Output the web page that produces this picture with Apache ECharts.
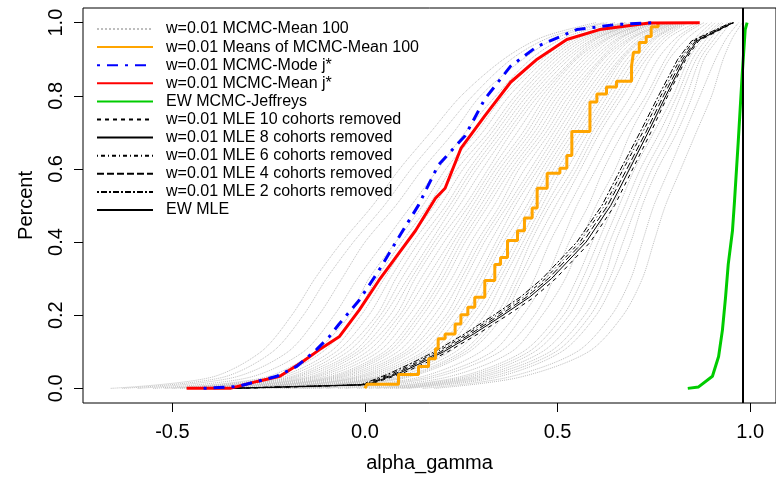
<!DOCTYPE html>
<html>
<head>
<meta charset="utf-8">
<script src="https://cdn.jsdelivr.net/npm/echarts@6/dist/echarts.min.js"></script>
<style>
  html, body { margin: 0; padding: 0; background: #fff; }
  #tu1 { width: 776px; height: 478px; }
</style>
</head>
<body>
<div id="tu1"></div>
<script>
// tick labels
var xTicks = [-0.5, 0, 0.5, 1.0];
var yTicks = [0, 0.2, 0.4, 0.6, 0.8, 1.0];

// gray: "MCMC-Mean 100" curves, x read at these percent levels
var grayP = [0, 0.03, 0.1, 0.2, 0.3, 0.4, 0.5, 0.6, 0.7, 0.8, 0.9, 0.96, 1];
var grayX = [
    [-0.66, -0.40, -0.27, -0.19, -0.13, -0.06, 0.02, 0.09, 0.17, 0.25, 0.36, 0.46, 0.60],
    [-0.63, -0.37, -0.24, -0.16, -0.10, -0.03, 0.05, 0.12, 0.20, 0.28, 0.38, 0.48, 0.62],
    [-0.59, -0.34, -0.20, -0.12, -0.06, 0.00, 0.08, 0.15, 0.23, 0.30, 0.41, 0.50, 0.63],
    [-0.55, -0.30, -0.16, -0.08, -0.02, 0.05, 0.12, 0.19, 0.26, 0.34, 0.43, 0.52, 0.65],
    [-0.52, -0.26, -0.13, -0.04, 0.01, 0.08, 0.15, 0.21, 0.29, 0.36, 0.46, 0.54, 0.67],
    [-0.50, -0.245, -0.11, -0.025, 0.03, 0.095, 0.165, 0.225, 0.305, 0.375, 0.47, 0.55, 0.675],
    [-0.48, -0.23, -0.09, -0.01, 0.05, 0.11, 0.18, 0.24, 0.32, 0.39, 0.48, 0.56, 0.68],
    [-0.465, -0.215, -0.075, 0.01, 0.065, 0.125, 0.195, 0.255, 0.33, 0.40, 0.49, 0.57, 0.69],
    [-0.45, -0.20, -0.06, 0.03, 0.08, 0.14, 0.21, 0.27, 0.34, 0.41, 0.50, 0.58, 0.70],
    [-0.435, -0.19, -0.045, 0.04, 0.095, 0.155, 0.22, 0.28, 0.35, 0.42, 0.51, 0.59, 0.705],
    [-0.42, -0.18, -0.03, 0.05, 0.11, 0.17, 0.23, 0.29, 0.36, 0.43, 0.52, 0.60, 0.71],
    [-0.41, -0.165, -0.02, 0.065, 0.12, 0.18, 0.245, 0.305, 0.37, 0.44, 0.53, 0.605, 0.715],
    [-0.40, -0.15, -0.01, 0.08, 0.13, 0.19, 0.26, 0.32, 0.38, 0.45, 0.54, 0.61, 0.72],
    [-0.385, -0.14, 0.005, 0.09, 0.145, 0.205, 0.27, 0.33, 0.395, 0.46, 0.545, 0.62, 0.725],
    [-0.37, -0.13, 0.02, 0.10, 0.16, 0.22, 0.28, 0.34, 0.41, 0.47, 0.55, 0.63, 0.73],
    [-0.36, -0.115, 0.035, 0.115, 0.175, 0.23, 0.29, 0.35, 0.42, 0.48, 0.56, 0.635, 0.735],
    [-0.35, -0.10, 0.05, 0.13, 0.19, 0.24, 0.30, 0.36, 0.43, 0.49, 0.57, 0.64, 0.74],
    [-0.335, -0.09, 0.06, 0.14, 0.20, 0.25, 0.31, 0.37, 0.44, 0.50, 0.58, 0.65, 0.745],
    [-0.32, -0.08, 0.07, 0.15, 0.21, 0.26, 0.32, 0.38, 0.45, 0.51, 0.59, 0.66, 0.75],
    [-0.31, -0.07, 0.085, 0.165, 0.225, 0.275, 0.335, 0.39, 0.46, 0.52, 0.60, 0.665, 0.755],
    [-0.30, -0.06, 0.10, 0.18, 0.24, 0.29, 0.35, 0.40, 0.47, 0.53, 0.61, 0.67, 0.76],
    [-0.285, -0.045, 0.11, 0.195, 0.25, 0.30, 0.36, 0.415, 0.48, 0.54, 0.615, 0.68, 0.77],
    [-0.27, -0.03, 0.12, 0.21, 0.26, 0.31, 0.37, 0.43, 0.49, 0.55, 0.62, 0.69, 0.78],
    [-0.26, -0.02, 0.135, 0.22, 0.275, 0.325, 0.38, 0.44, 0.50, 0.56, 0.63, 0.695, 0.785],
    [-0.25, -0.01, 0.15, 0.23, 0.29, 0.34, 0.39, 0.45, 0.51, 0.57, 0.64, 0.70, 0.79],
    [-0.235, 0.005, 0.16, 0.245, 0.30, 0.35, 0.405, 0.46, 0.52, 0.58, 0.65, 0.71, 0.795],
    [-0.22, 0.02, 0.17, 0.26, 0.31, 0.36, 0.42, 0.47, 0.53, 0.59, 0.66, 0.72, 0.80],
    [-0.21, 0.03, 0.185, 0.27, 0.325, 0.375, 0.43, 0.48, 0.54, 0.60, 0.665, 0.725, 0.805],
    [-0.20, 0.04, 0.20, 0.28, 0.34, 0.39, 0.44, 0.49, 0.55, 0.61, 0.67, 0.73, 0.81],
    [-0.185, 0.05, 0.21, 0.295, 0.35, 0.40, 0.45, 0.50, 0.56, 0.62, 0.68, 0.74, 0.815],
    [-0.17, 0.06, 0.22, 0.31, 0.36, 0.41, 0.46, 0.51, 0.57, 0.63, 0.69, 0.75, 0.82],
    [-0.16, 0.075, 0.235, 0.325, 0.375, 0.42, 0.47, 0.525, 0.58, 0.64, 0.70, 0.755, 0.825],
    [-0.15, 0.09, 0.25, 0.34, 0.39, 0.43, 0.48, 0.54, 0.59, 0.65, 0.71, 0.76, 0.83],
    [-0.135, 0.10, 0.26, 0.35, 0.40, 0.445, 0.495, 0.55, 0.60, 0.66, 0.72, 0.77, 0.835],
    [-0.12, 0.11, 0.27, 0.36, 0.41, 0.46, 0.51, 0.56, 0.61, 0.67, 0.73, 0.78, 0.84],
    [-0.10, 0.14, 0.30, 0.39, 0.44, 0.48, 0.53, 0.58, 0.63, 0.69, 0.74, 0.79, 0.86],
    [-0.07, 0.16, 0.33, 0.41, 0.47, 0.51, 0.55, 0.60, 0.65, 0.71, 0.76, 0.81, 0.87],
    [-0.05, 0.18, 0.35, 0.44, 0.49, 0.53, 0.58, 0.62, 0.67, 0.73, 0.78, 0.82, 0.88],
    [-0.02, 0.21, 0.38, 0.46, 0.52, 0.56, 0.60, 0.65, 0.69, 0.74, 0.79, 0.84, 0.89],
    [0.01, 0.24, 0.41, 0.50, 0.55, 0.59, 0.63, 0.67, 0.72, 0.77, 0.82, 0.86, 0.90],
    [0.03, 0.255, 0.425, 0.515, 0.565, 0.605, 0.645, 0.685, 0.735, 0.785, 0.83, 0.87, 0.91],
    [0.05, 0.27, 0.44, 0.53, 0.58, 0.62, 0.66, 0.70, 0.75, 0.80, 0.84, 0.88, 0.92],
    [0.065, 0.285, 0.46, 0.55, 0.60, 0.635, 0.675, 0.715, 0.765, 0.81, 0.85, 0.89, 0.925],
    [0.08, 0.30, 0.48, 0.57, 0.62, 0.65, 0.69, 0.73, 0.78, 0.82, 0.86, 0.90, 0.93],
    [0.095, 0.32, 0.495, 0.585, 0.635, 0.67, 0.705, 0.745, 0.795, 0.835, 0.87, 0.91, 0.94],
    [0.11, 0.34, 0.51, 0.60, 0.65, 0.69, 0.72, 0.76, 0.81, 0.85, 0.88, 0.92, 0.95],
    [0.15, 0.37, 0.55, 0.64, 0.69, 0.72, 0.75, 0.79, 0.83, 0.87, 0.91, 0.94, 0.97],
    [0.18, 0.40, 0.58, 0.67, 0.72, 0.75, 0.78, 0.82, 0.86, 0.90, 0.93, 0.955, 0.98]
];

// orange: means of MCMC-Mean 100 (step)
var orangeX = [0.000, 0.005, 0.044, 0.087, 0.139, 0.165, 0.183, 0.190, 0.208, 0.234, 0.249, 0.267, 0.285, 0.311, 0.337, 0.352, 0.370, 0.396, 0.414, 0.434, 0.447, 0.473, 0.506, 0.524, 0.537, 0.555, 0.584, 0.602, 0.627, 0.653, 0.679, 0.692, 0.697, 0.712, 0.730, 0.743, 0.761];
var orangeP = [0, 0.011, 0.011, 0.038, 0.060, 0.081, 0.108, 0.136, 0.149, 0.176, 0.201, 0.222, 0.249, 0.295, 0.339, 0.358, 0.404, 0.431, 0.466, 0.493, 0.547, 0.588, 0.602, 0.637, 0.702, 0.702, 0.783, 0.805, 0.824, 0.840, 0.840, 0.881, 0.919, 0.946, 0.962, 0.989, 1];

// blue: MCMC-Mode j*
var blueX = [-0.419, -0.332, -0.229, -0.177, -0.126, -0.093, -0.067, -0.015, 0.036, 0.087, 0.139, 0.190, 0.260, 0.311, 0.378, 0.447, 0.550, 0.653, 0.756];
var blueP = [0, 0.005, 0.033, 0.060, 0.106, 0.141, 0.176, 0.241, 0.322, 0.412, 0.501, 0.610, 0.691, 0.791, 0.881, 0.935, 0.981, 0.995, 1];

// red: MCMC-Mean j*
var redX = [-0.463, -0.350, -0.280, -0.221, -0.162, -0.118, -0.067, -0.015, 0.036, 0.080, 0.131, 0.183, 0.208, 0.249, 0.311, 0.378, 0.447, 0.524, 0.609, 0.738, 0.869];
var redP = [0, 0, 0.019, 0.033, 0.073, 0.106, 0.141, 0.214, 0.295, 0.358, 0.431, 0.520, 0.547, 0.656, 0.745, 0.837, 0.900, 0.954, 0.981, 0.999, 1];

// green: EW MCMC-Jeffreys
var greenX = [0.838, 0.866, 0.902, 0.918, 0.928, 0.936, 0.943, 0.954, 0.959, 0.969, 0.979, 0.987, 0.992];
var greenP = [0, 0.004, 0.033, 0.087, 0.160, 0.249, 0.339, 0.431, 0.507, 0.675, 0.854, 0.981, 1];

// black: MLE with cohorts removed
var mleP = [0, 0.005, 0.01, 0.04, 0.07, 0.1, 0.15, 0.2, 0.25, 0.3, 0.4, 0.5, 0.6, 0.7, 0.8, 0.9, 0.95, 1];
var mle10 = [-0.33, -0.15, 0.01, 0.095, 0.158, 0.215, 0.295, 0.37, 0.44, 0.495, 0.585, 0.648, 0.695, 0.742, 0.786, 0.833, 0.866, 0.958];
var mle8 = [-0.35, -0.16, 0.005, 0.086, 0.147, 0.204, 0.284, 0.358, 0.428, 0.484, 0.574, 0.638, 0.687, 0.735, 0.781, 0.829, 0.862, 0.956];
var mle6 = [-0.36, -0.18, -0.005, 0.07, 0.131, 0.188, 0.268, 0.342, 0.412, 0.468, 0.558, 0.622, 0.671, 0.721, 0.768, 0.818, 0.853, 0.952];
var mle4 = [-0.34, -0.17, 0.0, 0.078, 0.139, 0.196, 0.276, 0.35, 0.42, 0.476, 0.566, 0.630, 0.680, 0.729, 0.775, 0.824, 0.858, 0.955];
var mle2 = [-0.37, -0.19, -0.01, 0.062, 0.123, 0.18, 0.26, 0.334, 0.404, 0.46, 0.55, 0.615, 0.664, 0.714, 0.762, 0.812, 0.848, 0.95];

// EW MLE point estimate (vertical line)
var ewMle = 0.978;

var FONT = 'Liberation Sans';
var NAME_GRAY = 'w=0.01 MCMC-Mean 100';

function pairs(xs, ps) {
    var out = [];
    for (var i = 0; i < xs.length; i++) out.push([xs[i], ps[i]]);
    return out;
}

function lineSeries(name, data, color, width, type, extra) {
    var s = {
        name: name,
        type: 'line',
        data: data,
        symbol: 'none',
        silent: true,
        lineStyle: { color: color, width: width, type: type },
        itemStyle: { color: color }
    };
    for (var k in extra) s[k] = extra[k];
    return s;
}

var series = [];
grayX.forEach(function (row) {
    series.push(lineSeries(NAME_GRAY, pairs(row, grayP), '#bebebe', 1, 'dotted', { smooth: 0.3 }));
});
series.push(lineSeries('w=0.01 MLE 10 cohorts removed', pairs(mle10, mleP), '#000', 1, [4, 4]));
series.push(lineSeries('w=0.01 MLE 8 cohorts removed', pairs(mle8, mleP), '#000', 1, 'solid'));
series.push(lineSeries('w=0.01 MLE 6 cohorts removed', pairs(mle6, mleP), '#000', 1, [1, 3, 4, 3]));
series.push(lineSeries('w=0.01 MLE 4 cohorts removed', pairs(mle4, mleP), '#000', 1, [7, 3]));
series.push(lineSeries('w=0.01 MLE 2 cohorts removed', pairs(mle2, mleP), '#000', 1, [2, 2, 6, 2]));
series.push(lineSeries('w=0.01 Means of MCMC-Mean 100', pairs(orangeX, orangeP), '#ffa500', 3, 'solid', { step: 'end' }));
series.push(lineSeries('w=0.01 MCMC-Mean j*', pairs(redX, redP), '#ff0000', 3, 'solid'));
series.push(lineSeries('w=0.01 MCMC-Mode j*', pairs(blueX, blueP), '#0000ff', 3, [3, 7, 11, 7]));
series.push(lineSeries('EW MCMC-Jeffreys', pairs(greenX, greenP), '#00cc00', 3, 'solid'));
series.push(lineSeries('EW MLE', [], '#000', 2, 'solid', {
    markLine: {
        silent: true,
        symbol: 'none',
        label: { show: false },
        lineStyle: { color: '#000', width: 2, type: 'solid' },
        data: [{ xAxis: ewMle }]
    }
}));

var myChart1 = echarts.init(document.getElementById('tu1'), null, { renderer: 'canvas' });
var option1 = {
    animation: false,
    backgroundColor: '#fff',
    grid: {
        left: 83, top: 8, width: 700, height: 399,
        show: true, borderColor: '#000', borderWidth: 1
    },
    legend: {
        orient: 'vertical',
        left: 96,
        top: 21,
        padding: 0,
        itemWidth: 56,
        itemHeight: 15,
        itemGap: 2.1,
        selectedMode: false,
        itemStyle: { opacity: 0 },
        textStyle: { fontFamily: FONT, fontSize: 16, color: '#000', lineHeight: 15, padding: [0, 0, 0, 8] },
        data: [NAME_GRAY, 'w=0.01 Means of MCMC-Mean 100', 'w=0.01 MCMC-Mode j*', 'w=0.01 MCMC-Mean j*',
            'EW MCMC-Jeffreys', 'w=0.01 MLE 10 cohorts removed', 'w=0.01 MLE 8 cohorts removed',
            'w=0.01 MLE 6 cohorts removed', 'w=0.01 MLE 4 cohorts removed', 'w=0.01 MLE 2 cohorts removed', 'EW MLE']
    },
    xAxis: {
        type: 'value',
        min: -0.732,
        max: 1.067,
        name: 'alpha_gamma',
        nameLocation: 'middle',
        nameGap: 50,
        nameTextStyle: { fontFamily: FONT, fontSize: 20, color: '#000' },
        axisLine: { show: false, onZero: false },
        splitLine: { show: false },
        axisTick: { customValues: xTicks, length: 9, lineStyle: { color: '#000' } },
        axisLabel: {
            customValues: xTicks,
            margin: 19,
            fontFamily: FONT, fontSize: 20, color: '#000',
            formatter: function (v) { return v.toFixed(1); }
        }
    },
    yAxis: {
        type: 'value',
        min: -0.04,
        max: 1.04,
        name: 'Percent',
        nameLocation: 'middle',
        nameRotate: 90,
        nameGap: 47,
        nameTextStyle: { fontFamily: FONT, fontSize: 20, color: '#000' },
        axisLine: { show: false, onZero: false },
        splitLine: { show: false },
        axisTick: { customValues: yTicks, length: 9, lineStyle: { color: '#000' } },
        axisLabel: {
            customValues: yTicks,
            rotate: 90,
            margin: 17,
            fontFamily: FONT, fontSize: 20, color: '#000',
            formatter: function (v) { return v.toFixed(1); }
        }
    },
    series: series
};
myChart1.setOption(option1);
</script>
</body>
</html>
